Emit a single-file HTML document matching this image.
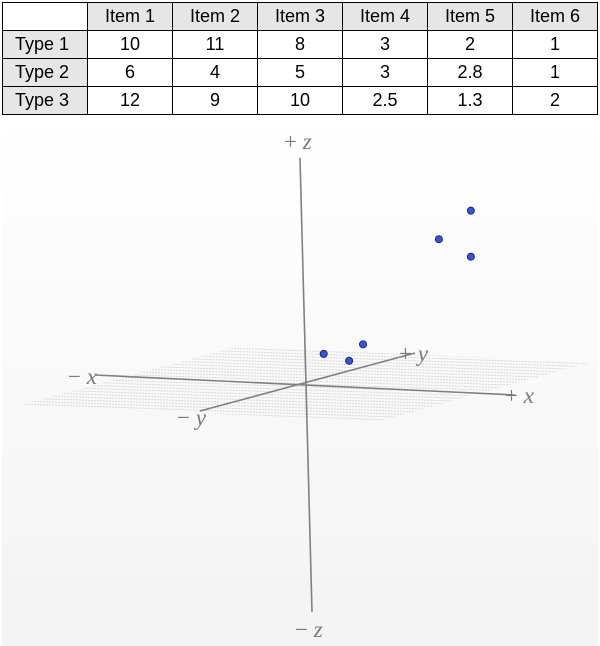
<!DOCTYPE html>
<html><head><meta charset="utf-8"><style>
html,body{margin:0;padding:0;background:#fff;width:600px;height:646px;overflow:hidden}
table{position:absolute;left:2px;top:2px;border-collapse:collapse;font-family:"Liberation Sans",sans-serif;font-size:18px}
td{border:1px solid #000;width:84px;height:27px;text-align:center;padding:0;color:#000}
td.h{background:#e7e6e6}
td.r{background:#e7e6e6;text-align:left;padding-left:12px;width:72px}
#plot{position:absolute;left:2px;top:117px}
</style></head><body>
<table>
<tr><td></td><td class="h">Item 1</td><td class="h">Item 2</td><td class="h">Item 3</td><td class="h">Item 4</td><td class="h">Item 5</td><td class="h">Item 6</td></tr>
<tr><td class="r">Type 1</td><td>10</td><td>11</td><td>8</td><td>3</td><td>2</td><td>1</td></tr>
<tr><td class="r">Type 2</td><td>6</td><td>4</td><td>5</td><td>3</td><td>2.8</td><td>1</td></tr>
<tr><td class="r">Type 3</td><td>12</td><td>9</td><td>10</td><td>2.5</td><td>1.3</td><td>2</td></tr>
</table>
<svg id="plot" width="596" height="529" viewBox="2 117 596 529">
<defs>
<linearGradient id="bg" x1="0" y1="0" x2="0" y2="1"><stop offset="0" stop-color="#ffffff"/><stop offset="1" stop-color="#f3f3f3"/></linearGradient>
<pattern id="hatch" width="6" height="3" patternUnits="userSpaceOnUse" patternTransform="rotate(2)"><line x1="0" y1="1" x2="6" y2="1" stroke="#c9c9c9" stroke-width="0.7" stroke-dasharray="2 1"/></pattern>
</defs>
<rect x="2" y="117" width="596" height="529" fill="url(#bg)"/>
<polygon points="20,405 235,347 592,362 380,421" fill="url(#hatch)" opacity="0.9"/>
<g stroke="#808080" stroke-width="1.6" fill="none">
<line x1="95" y1="375" x2="515" y2="395"/>
<line x1="200" y1="411" x2="415" y2="353"/>
<line x1="300" y1="158" x2="312" y2="612"/>
</g>
<g font-family="'Liberation Serif',serif" font-size="23" fill="#7a7a7a">
<text x="284" y="149">+ <tspan font-style="italic">z</tspan></text>
<text x="295" y="637">− <tspan font-style="italic">z</tspan></text>
<text x="68" y="384">− <tspan font-style="italic">x</tspan></text>
<text x="505" y="403">+ <tspan font-style="italic">x</tspan></text>
<text x="399" y="361">+ <tspan font-style="italic">y</tspan></text>
<text x="177" y="425">− <tspan font-style="italic">y</tspan></text>
</g>
<g id="pts"></g>
</svg>
<script>
const items = ["Item 1","Item 2","Item 3","Item 4","Item 5","Item 6"];
const type1 = [10, 11, 8, 3, 2, 1];
const type2 = [6, 4, 5, 3, 2.8, 1];
const type3 = [12, 9, 10, 2.5, 1.3, 2];
const O = [304.5, 383];
function proj(x, y, z) {
  return [O[0] + x*12.86 + y*6.9 - z*0.3, O[1] + x*0.58 - y*1.89 - z*13.9];
}
const g = document.getElementById('pts');
items.forEach((it, i) => {
  const p = proj(type1[i], type2[i], type3[i]);
  const c = document.createElementNS('http://www.w3.org/2000/svg', 'circle');
  c.setAttribute('cx', p[0]); c.setAttribute('cy', p[1]); c.setAttribute('r', 3.6);
  c.setAttribute('fill', '#2a55e6'); c.setAttribute('stroke', '#1a1a60'); c.setAttribute('stroke-width', '0.8');
  
  
  g.appendChild(c);
});
</script>
</body></html>
